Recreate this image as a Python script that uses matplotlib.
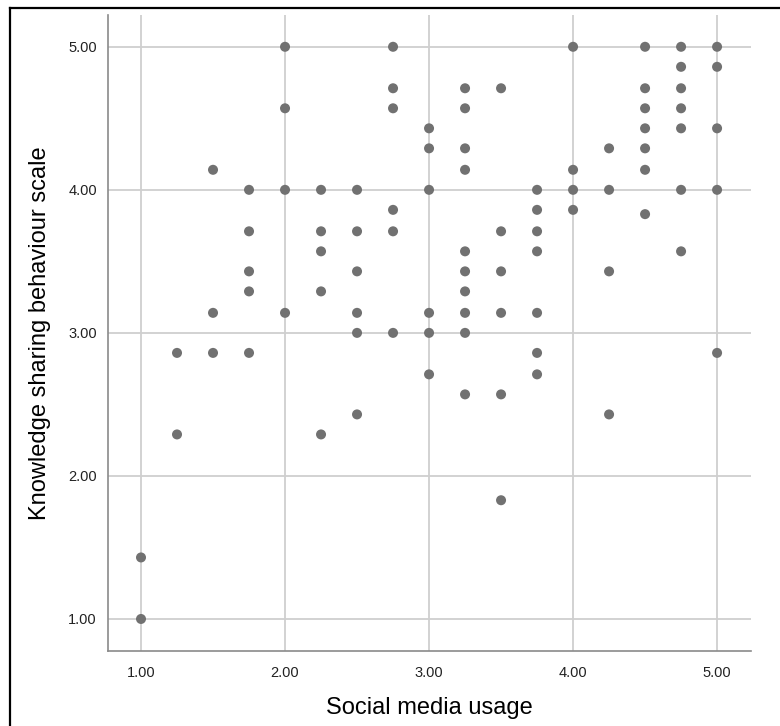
import matplotlib
matplotlib.use('Agg')
import matplotlib.pyplot as plt
from matplotlib.lines import Line2D

# social media usage (x) against knowledge sharing score (y), one pair per respondent
usage = (
    [1.00] * 2 + [1.25] * 2 + [1.50] * 3 + [1.75] * 5 + [2.00] * 4 +
    [2.25] * 5 + [2.50] * 6 + [2.75] * 6 + [3.00] * 6 + [3.25] * 10 +
    [3.50] * 6 + [3.75] * 7 + [4.00] * 4 + [4.25] * 4 + [4.50] * 7 +
    [4.75] * 7 + [5.00] * 5
)
knowledge = [
    1.43, 1.00,
    2.86, 2.29,
    4.14, 3.14, 2.86,
    4.00, 3.71, 3.43, 3.29, 2.86,
    5.00, 4.57, 4.00, 3.14,
    4.00, 3.71, 3.57, 3.29, 2.29,
    4.00, 3.71, 3.43, 3.14, 3.00, 2.43,
    5.00, 4.71, 4.57, 3.86, 3.71, 3.00,
    4.43, 4.29, 4.00, 3.14, 3.00, 2.71,
    4.71, 4.57, 4.29, 4.14, 3.57, 3.43, 3.29, 3.14, 3.00, 2.57,
    4.71, 3.71, 3.43, 3.14, 2.57, 1.83,
    4.00, 3.86, 3.71, 3.57, 3.14, 2.86, 2.71,
    5.00, 4.14, 4.00, 3.86,
    4.29, 4.00, 3.43, 2.43,
    5.00, 4.71, 4.57, 4.43, 4.29, 4.14, 3.83,
    5.00, 4.86, 4.71, 4.57, 4.43, 4.00, 3.57,
    5.00, 4.86, 4.43, 4.00, 2.86,
]
ticks = [1.0, 2.0, 3.0, 4.0, 5.0]
tick_labels = ['1.00', '2.00', '3.00', '4.00', '5.00']

plt.rcParams['font.family'] = ['Liberation Sans', 'DejaVu Sans']

fig = plt.figure(figsize=(7.8, 7.26), dpi=100)
ax = fig.add_axes([0.1385, 0.1033, 0.8244, 0.8760])

ax.scatter(usage, knowledge, s=52, color='#717171', edgecolors='none', zorder=3)

ax.set_xlim(0.771, 5.236)
ax.set_ylim(0.776, 5.222)
ax.set_xticks(ticks)
ax.set_xticklabels(tick_labels)
ax.set_yticks(ticks)
ax.set_yticklabels(tick_labels)
ax.tick_params(length=0, labelsize=10.5, colors='#222222')
ax.tick_params(axis='x', pad=11)
ax.tick_params(axis='y', pad=8)

ax.grid(True, color='#cfcfcf', linewidth=1.3, zorder=0)
ax.set_axisbelow(True)
for side in ('top', 'right'):
    ax.spines[side].set_visible(False)
for side in ('left', 'bottom'):
    ax.spines[side].set_color('#8a8a8a')
    ax.spines[side].set_linewidth(1.2)

ax.set_xlabel('Social media usage', fontsize=17, color='black', va='center')
ax.set_ylabel('Knowledge sharing behaviour scale', fontsize=17, color='black', va='center')
ax.xaxis.set_label_coords(0.5, -0.0896)
ax.yaxis.set_label_coords(-0.106, 0.5)

# frame around the chart (left and top edges fall inside the image)
left = 9.5 / 780
top = 1 - 7.5 / 726
fig.add_artist(Line2D([left, left], [-0.01, top], transform=fig.transFigure, color='black', linewidth=1.6))
fig.add_artist(Line2D([left, 1.01], [top, top], transform=fig.transFigure, color='black', linewidth=1.6))

fig.savefig('out.png', dpi=100)
